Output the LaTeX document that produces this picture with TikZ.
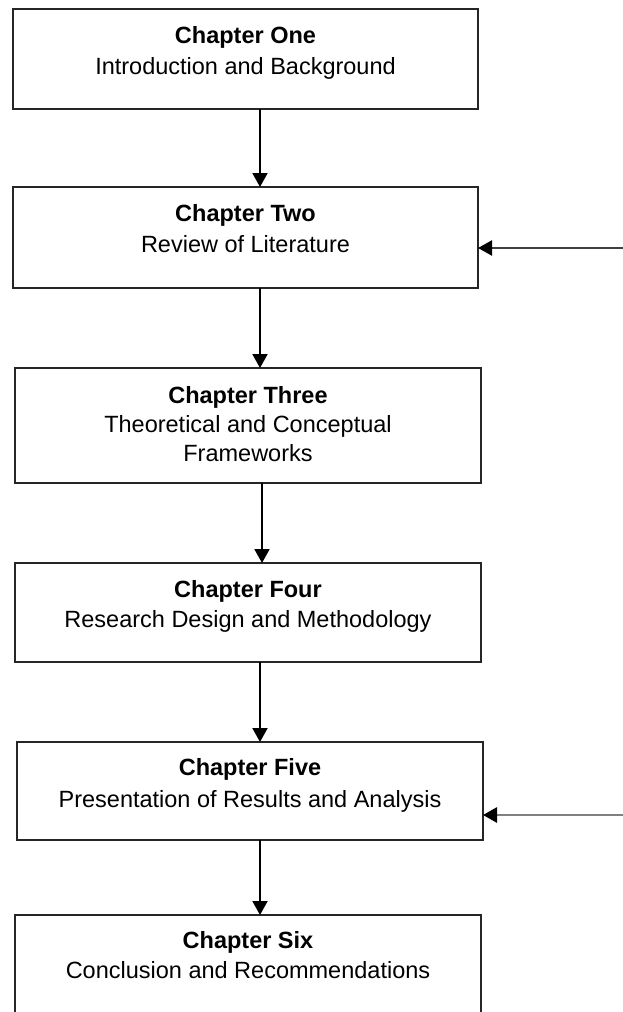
\documentclass[tikz,border=0pt]{standalone}
\usepackage{fontspec}
\setmainfont{Liberation Sans}
\usetikzlibrary{arrows.meta}

\begin{document}
\begin{tikzpicture}[x=1pt,y=-1pt,
  box/.style={draw=black!85, line width=2pt, fill=white, inner sep=0pt, outer sep=0pt},
  head/.style={font=\fontsize{23.5}{28}\selectfont\bfseries, anchor=base, inner sep=0pt},
  body/.style={font=\fontsize{23.5}{28}\selectfont, anchor=base, inner sep=0pt},
  flow/.style={line width=2pt, draw=black, -{Triangle[length=14pt,width=15pt,color=black]}},
  feedA/.style={line width=2.2pt, draw=black!75, -{Triangle[length=14pt,width=15pt,color=black]}},
  feedB/.style={line width=2.8pt, draw=black!50, -{Triangle[length=14pt,width=15pt,color=black]}}]

\useasboundingbox (0,0) rectangle (623,1012);
\fill[white] (0,0) rectangle (623,1012);
\clip (0,0) rectangle (623,1012);

% chapter boxes
\node[box, minimum width=465pt, minimum height=100pt] (c1) at (245.5,59) {};
\node[box, minimum width=465pt, minimum height=101pt] (c2) at (245.5,237.5) {};
\node[box, minimum width=466pt, minimum height=115pt] (c3) at (248,425.5) {};
\node[box, minimum width=466pt, minimum height=99pt]  (c4) at (248,612.5) {};
\node[box, minimum width=466pt, minimum height=98pt]  (c5) at (250,791) {};
\node[box, minimum width=466pt, minimum height=105pt] (c6) at (248,967.5) {};

% chapter titles and subjects
\node[head] (h1) at (245.5,43) {Chapter One};
\node[body] (b1) at (245.5,74) {Introduction and Background};

\node[head] (h2) at (245.5,221) {Chapter Two};
\node[body] (b2) at (245.5,252) {Review of Literature};

\node[head] (h3) at (248,403) {Chapter Three};
\node[body] (b3a) at (248,432) {Theoretical and Conceptual};
\node[body] (b3b) at (248,461) {Frameworks};

\node[head] (h4) at (248,597) {Chapter Four};
\node[body] (b4) at (248,627) {Research Design and Methodology};

\node[head] (h5) at (250,775) {Chapter Five};
\node[body] (b5) at (250,807) {Presentation of Results and Analysis};

\node[head] (h6) at (248,948) {Chapter Six};
\node[body] (b6) at (248,978) {Conclusion and Recommendations};

% vertical guide lines for the flow arrows
\coordinate (ax) at (260,0);
\coordinate (bx) at (262,0);

\draw[flow] (c1.south -| ax) -- (c2.north -| ax);
\draw[flow] (c2.south -| ax) -- (c3.north -| ax);
\draw[flow] (c3.south -| bx) -- (c4.north -| bx);
\draw[flow] (c4.south -| ax) -- (c5.north -| ax);
\draw[flow] (c5.south -| ax) -- (c6.north -| ax);

% feedback arrows entering from the right
\coordinate (fa) at (623,248);
\coordinate (fb) at (623,815);
\draw[feedA] (fa) -- (c2.east |- fa);
\draw[feedB] (fb) -- (c5.east |- fb);

\end{tikzpicture}
\end{document}
